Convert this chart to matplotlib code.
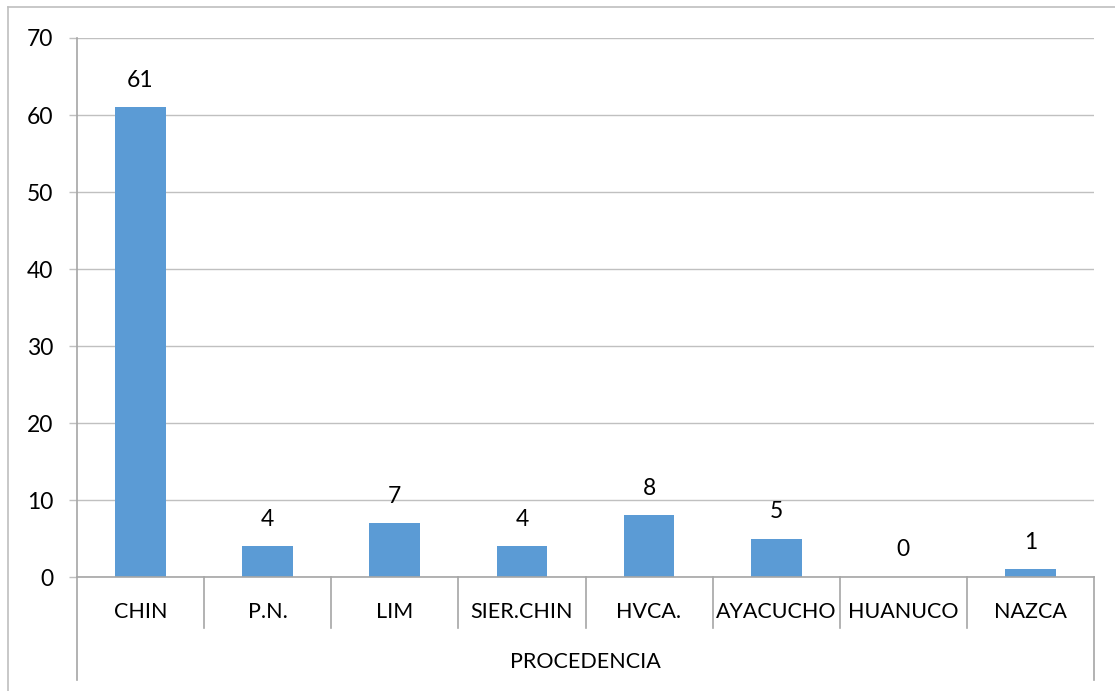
import matplotlib
matplotlib.use("Agg")
import matplotlib.pyplot as plt
from matplotlib.transforms import blended_transform_factory
from matplotlib.lines import Line2D

categories = ["CHIN", "P.N.", "LIM", "SIER.CHIN", "HVCA.", "AYACUCHO", "HUANUCO", "NAZCA"]
values = [61, 4, 7, 4, 8, 5, 0, 1]
yticks = [0, 10, 20, 30, 40, 50, 60, 70]
group_label = "PROCEDENCIA"

plt.rcParams['font.family'] = ['Lato', 'DejaVu Sans']

W, H = 1115, 691
fig = plt.figure(figsize=(W / 100, H / 100), dpi=100)
ax = fig.add_axes([77 / W, 1 - 577 / H, (1094 - 77) / W, (577 - 38) / H])

grid_c = "#C0C0C0"
axis_c = "#A6A6A6"
bar_c = "#5B9BD5"
fs = 15.5
fs_num = 16.5

x = list(range(len(categories)))
ax.bar(x, values, width=0.4, color=bar_c, zorder=3)
ax.set_xlim(-0.5, len(categories) - 0.5)
ax.set_ylim(0, 70)
ax.set_yticks(yticks)
ax.set_yticklabels([str(t) for t in yticks], fontsize=fs_num)
ax.tick_params(axis='y', length=6, width=1, color=grid_c, pad=11, labelcolor="black")
ax.set_xticks([])
ax.yaxis.grid(True, color=grid_c, linewidth=1, zorder=0)
for s in ax.spines.values():
    s.set_visible(False)

for xi, v in zip(x, values):
    ax.annotate(str(v), (xi, v), xytext=(0, 19.5), textcoords="offset points",
                ha="center", va="center", fontsize=fs_num, color="black")

tr = blended_transform_factory(ax.transData, ax.transAxes)
ax_h = 577 - 38
sep_y = -(628 - 577) / ax_h
out_y = -(680 - 577) / ax_h
lab_y = -(612 - 577) / ax_h
grp_y = -(662 - 577) / ax_h

# bottom axis line
ax.plot([-0.5, len(categories) - 0.5], [0, 0], transform=tr, color=axis_c, lw=1.2, clip_on=False, zorder=4)
# left axis line extended
ax.plot([-0.5, -0.5], [1, out_y], transform=tr, color=axis_c, lw=1.2, clip_on=False, zorder=4)
# right outer line
ax.plot([len(categories) - 0.5] * 2, [0, out_y], transform=tr, color=axis_c, lw=1.2, clip_on=False, zorder=4)
# category separators
for b in range(1, len(categories)):
    ax.plot([b - 0.5, b - 0.5], [0, sep_y], transform=tr, color=axis_c, lw=1.2, clip_on=False, zorder=4)

for xi, c in zip(x, categories):
    ax.text(xi, lab_y, c, transform=tr, ha="center", va="center", fontsize=fs)
ax.text((len(categories) - 1) / 2, grp_y, group_label, transform=tr, ha="center", va="center", fontsize=fs)

# outer chart frame (partially cropped)
fig.add_artist(Line2D([8 / W, 8 / W], [0, 1 - 7 / H], transform=fig.transFigure, color="#BFBFBF", lw=1.2))
fig.add_artist(Line2D([8 / W, 1], [1 - 7 / H, 1 - 7 / H], transform=fig.transFigure, color="#BFBFBF", lw=1.2))

fig.savefig("out.png", dpi=100)
